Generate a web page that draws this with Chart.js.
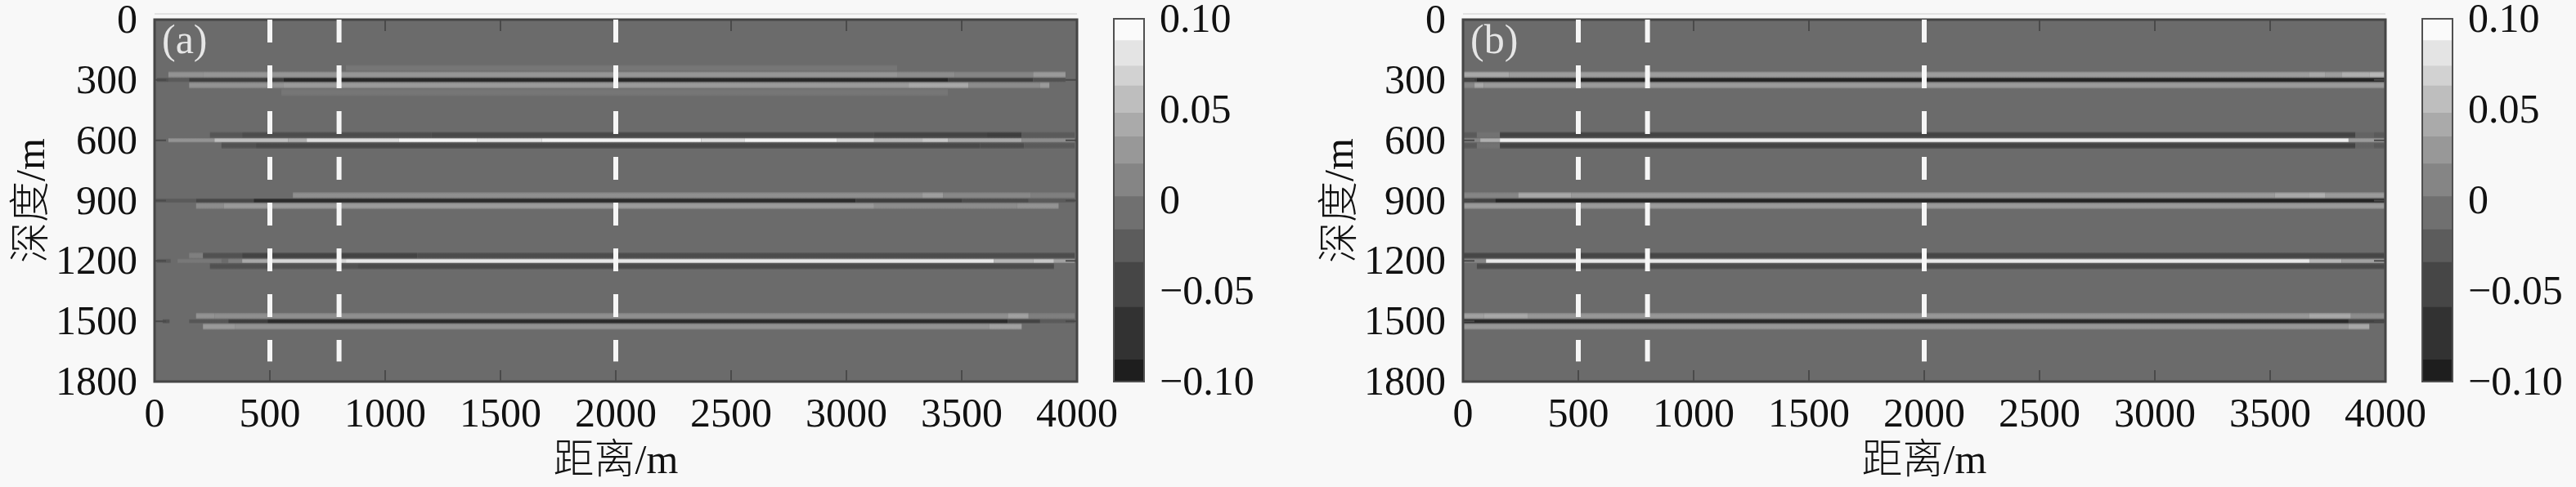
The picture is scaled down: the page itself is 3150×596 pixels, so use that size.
<!DOCTYPE html>
<html><head><meta charset="utf-8">
<script src="https://cdn.jsdelivr.net/npm/chart.js@4.4.1/dist/chart.umd.min.js"></script>
<style>
html,body{margin:0;padding:0;background:#f8f8f8;width:3150px;height:596px;overflow:hidden;position:relative;}
canvas{position:absolute;top:0;}
</style></head><body>
<canvas id="mainA" width="1600" height="596" style="left:0px"></canvas>
<canvas id="cbA" width="260" height="596" style="left:1340px"></canvas>
<canvas id="mainB" width="1600" height="596" style="left:1600px"></canvas>
<canvas id="cbB" width="260" height="596" style="left:2940px"></canvas>
<script>
// ---------------- data ----------------
const depthTicks = [0, 300, 600, 900, 1200, 1500, 1800];
const distTicks = [0, 500, 1000, 1500, 2000, 2500, 3000, 3500, 4000];
const cbTicks = [-0.10, -0.05, 0, 0.05, 0.10];
const reflectorDepths = [300, 600, 900, 1200, 1500];
const wellX = [500, 800, 2000];
const wellDepthRange = [0, 1700];
// colour-bar bands (value edges)
const cbEdges = [-0.10, -0.088, -0.059, -0.034, -0.016, 0.002, 0.020, 0.035, 0.048, 0.063, 0.074, 0.088, 0.10];

// reflector rows: [lobe, x0 (m), x1 (m), amplitude]
const reflA300 = [
  ['u2', 830, 3220, 0.008],
  ['u', 60, 210, 0.03], ['u', 210, 3220, 0.032], ['u', 3220, 3470, 0.026], ['u', 3470, 3810, 0.02], ['u', 3810, 3950, 0.035],
  ['c', 10, 60, -0.03], ['c', 60, 150, -0.02], ['c', 150, 560, -0.05], ['c', 560, 3440, -0.078], ['c', 3440, 3810, -0.05], ['c', 3810, 3950, -0.03],
  ['l', 150, 560, 0.03], ['l', 560, 3270, 0.035], ['l', 3270, 3530, 0.045], ['l', 3530, 3840, 0.025], ['l', 3840, 3880, 0.035],
  ['l2', 550, 3440, 0.008]
];
const reflA600 = [
  ['u', 240, 380, -0.025], ['u', 380, 1200, -0.035], ['u', 1200, 3120, -0.04], ['u', 3120, 3610, -0.045], ['u', 3610, 3760, -0.05], ['u', 3760, 3990, -0.02],
  ['c', 60, 260, 0.03], ['c', 260, 580, 0.06], ['c', 580, 660, 0.05], ['c', 660, 1060, 0.08], ['c', 1060, 1400, 0.095], ['c', 1400, 1680, 0.085],
  ['c', 1680, 2370, 0.095], ['c', 2370, 2560, 0.08], ['c', 2560, 2960, 0.095], ['c', 2960, 3120, 0.075], ['c', 3120, 3330, 0.055],
  ['c', 3330, 3440, 0.065], ['c', 3440, 3760, 0.045], ['c', 3760, 3990, 0.025],
  ['l', 290, 440, -0.03], ['l', 440, 3580, -0.04], ['l', 3580, 3770, -0.035], ['l', 3770, 3990, -0.02]
];
const reflA900 = [
  ['u', 600, 3330, 0.027], ['u', 3330, 3420, 0.038], ['u', 3420, 3800, 0.022], ['u', 3800, 3990, 0.015],
  ['c', 0, 180, -0.02], ['c', 180, 430, -0.04], ['c', 430, 3040, -0.072], ['c', 3040, 3500, -0.05], ['c', 3500, 3790, -0.035], ['c', 3790, 3990, -0.02],
  ['l', 180, 300, 0.025], ['l', 300, 3120, 0.035], ['l', 3120, 3740, 0.025], ['l', 3740, 3920, 0.03]
];
const reflA1200 = [
  ['u', 150, 210, 0.015], ['u', 210, 380, -0.03], ['u', 380, 1140, -0.045], ['u', 1140, 3990, -0.035],
  ['c', 10, 70, -0.02], ['c', 100, 290, 0.01], ['c', 320, 380, 0.015], ['c', 380, 490, 0.045], ['c', 490, 830, 0.075],
  ['c', 830, 3640, 0.088], ['c', 3640, 3810, 0.055], ['c', 3810, 3900, 0.065], ['c', 3900, 3990, 0.04],
  ['l', 240, 880, -0.03], ['l', 880, 3900, -0.036]
];
const reflA1500 = [
  ['u', 180, 260, 0.03], ['u', 260, 3700, 0.027], ['u', 3700, 3790, 0.04], ['u', 3790, 3990, 0.015],
  ['c', 35, 65, -0.03], ['c', 150, 320, -0.025], ['c', 320, 490, -0.05], ['c', 490, 3700, -0.072], ['c', 3700, 3840, -0.045], ['c', 3840, 3990, -0.02],
  ['l', 210, 350, 0.035], ['l', 350, 3620, 0.03], ['l', 3620, 3760, 0.04]
];

const reflB300 = [
  ['u', 0, 200, 0.045], ['u', 200, 3670, 0.037], ['u', 3670, 3740, 0.045], ['u', 3740, 3810, 0.037], ['u', 3810, 3930, 0.05], ['u', 3930, 3995, 0.055],
  ['c', 0, 60, -0.05], ['c', 60, 3995, -0.085],
  ['l', 0, 50, 0.02], ['l', 50, 90, 0.045], ['l', 90, 3995, 0.035]
];
const reflB600 = [
  ['u', 0, 60, -0.02], ['u', 60, 160, 0.005], ['u', 160, 3870, -0.045], ['u', 3870, 3950, -0.01], ['u', 3950, 3995, -0.02],
  ['c', 0, 75, 0.02], ['c', 75, 160, 0.05], ['c', 160, 3840, 0.092], ['c', 3840, 3995, 0.035],
  ['l', 0, 60, -0.02], ['l', 60, 160, 0.005], ['l', 160, 3870, -0.045], ['l', 3870, 3950, -0.01], ['l', 3950, 3995, -0.02]
];
const reflB900 = [
  ['u', 0, 240, 0.02], ['u', 240, 470, 0.045], ['u', 470, 3520, 0.035], ['u', 3520, 3670, 0.045], ['u', 3670, 3740, 0.05], ['u', 3740, 3995, 0.035],
  ['c', 0, 140, -0.045], ['c', 140, 3995, -0.08],
  ['l', 0, 3995, 0.035]
];
const reflB1200 = [
  ['u', 0, 3995, -0.042],
  ['c', 0, 100, 0.02], ['c', 100, 3670, 0.088], ['c', 3670, 3810, 0.055], ['c', 3810, 3995, 0.04],
  ['l', 60, 3995, -0.038]
];
const reflB1500 = [
  ['u', 0, 90, 0.04], ['u', 90, 280, 0.045], ['u', 280, 3670, 0.033], ['u', 3670, 3850, 0.045], ['u', 3850, 3995, 0.025],
  ['c', 0, 3840, -0.075], ['c', 3840, 3995, -0.045],
  ['l', 0, 3840, 0.033], ['l', 3840, 3930, 0.045]
];

// ---------------- style ----------------
const FONT = "'Liberation Serif','Times New Roman',serif";
const TITLE_FONT = "'Liberation Serif','Noto Sans CJK SC',serif";
const TEXT_COLOR = '#111111';
const LOBES = { u2: [-75, -42], u: [-42, -11], c: [-11, 11], l: [11, 42], l2: [42, 80] };
const CMAP = [[-0.1, 26], [-0.075, 40], [-0.05, 62], [-0.025, 86], [0, 107], [0.025, 140], [0.05, 175], [0.075, 215], [0.1, 250]];
const cbGray = [30, 50, 70, 92, 112, 133, 152, 170, 190, 210, 228, 250];

function grayFor(v) {
  if (v <= CMAP[0][0]) return CMAP[0][1];
  for (let i = 1; i < CMAP.length; i++) {
    if (v <= CMAP[i][0]) {
      const [v0, g0] = CMAP[i - 1], [v1, g1] = CMAP[i];
      return Math.round(g0 + (g1 - g0) * (v - v0) / (v1 - v0));
    }
  }
  return CMAP[CMAP.length - 1][1];
}
const rgb = g => `rgb(${g},${g},${g})`;
const noVPad = s => { s.paddingTop = 0; s.paddingBottom = 0; };

const seismicPlugin = {
  id: 'seismic',
  beforeDatasetsDraw(chart, args, opts) {
    const { ctx, chartArea: a, scales: { x, y } } = chart;
    // faint upper axis line above the box
    ctx.save();
    ctx.strokeStyle = '#e2e2e2'; ctx.lineWidth = 2;
    ctx.beginPath(); ctx.moveTo(a.left, a.top - 7); ctx.lineTo(a.right, a.top - 7); ctx.stroke();
    ctx.restore();

    ctx.save();
    ctx.beginPath(); ctx.rect(a.left, a.top, a.width, a.height); ctx.clip();
    const bg = grayFor(0);
    ctx.fillStyle = rgb(bg);
    ctx.fillRect(a.left, a.top, a.width, a.height);
    opts.reflectors.forEach((rows, i) => {
      const d = reflectorDepths[i];
      rows.forEach(([lobe, x0, x1, amp]) => {
        const [o0, o1] = LOBES[lobe];
        const py0 = y.getPixelForValue(d + o0), py1 = y.getPixelForValue(d + o1);
        const px0 = x.getPixelForValue(x0), px1 = x.getPixelForValue(x1);
        const g = grayFor(amp);
        const e = Math.round(bg + (g - bg) * 0.45);
        const grad = ctx.createLinearGradient(0, py0, 0, py1);
        grad.addColorStop(0, rgb(e)); grad.addColorStop(0.3, rgb(g));
        grad.addColorStop(0.7, rgb(g)); grad.addColorStop(1, rgb(e));
        ctx.fillStyle = grad;
        ctx.fillRect(px0, py0, px1 - px0, py1 - py0);
      });
    });
    // inward tick marks
    ctx.strokeStyle = '#4a4a4a'; ctx.lineWidth = 2;
    ctx.beginPath();
    x.ticks.forEach(t => {
      const p = x.getPixelForValue(t.value);
      ctx.moveTo(p, a.top); ctx.lineTo(p, a.top + 14);
      ctx.moveTo(p, a.bottom); ctx.lineTo(p, a.bottom - 14);
    });
    y.ticks.forEach(t => {
      const p = y.getPixelForValue(t.value);
      ctx.moveTo(a.left, p); ctx.lineTo(a.left + 14, p);
      ctx.moveTo(a.right, p); ctx.lineTo(a.right - 14, p);
    });
    ctx.stroke();
    ctx.restore();
    // frame
    ctx.save();
    ctx.strokeStyle = '#454545'; ctx.lineWidth = 3;
    ctx.strokeRect(a.left, a.top, a.width, a.height);
    // panel label
    ctx.font = `50px ${FONT}`;
    ctx.fillStyle = '#e6e6e6';
    ctx.textBaseline = 'alphabetic'; ctx.textAlign = 'left';
    ctx.fillText(opts.label, a.left + 9, a.top + 41);
    ctx.restore();
  }
};

const cbFramePlugin = {
  id: 'cbFrame',
  afterDatasetsDraw(chart) {
    const { ctx, chartArea: a } = chart;
    ctx.save();
    ctx.strokeStyle = '#505050'; ctx.lineWidth = 2;
    ctx.strokeRect(a.left, a.top, a.width, a.height);
    ctx.restore();
  }
};

function makeMain(id, reflectors, label) {
  return new Chart(document.getElementById(id), {
    type: 'scatter',
    data: {
      datasets: wellX.map(wx => ({
        data: [{ x: wx, y: wellDepthRange[0] }, { x: wx, y: wellDepthRange[1] }],
        showLine: true, borderColor: '#f6f6f6', borderWidth: 6, borderDash: [28, 28],
        borderCapStyle: 'butt', pointRadius: 0, fill: false
      }))
    },
    options: {
      responsive: false, animation: false, devicePixelRatio: 1,
      layout: { padding: { left: 0, right: 283, top: 24, bottom: 0 } },
      plugins: {
        legend: { display: false }, tooltip: { enabled: false },
        seismic: { reflectors, label }
      },
      scales: {
        x: {
          type: 'linear', min: 0, max: 4000, position: 'bottom',
          grid: { display: false, drawTicks: false }, border: { display: false },
          afterBuildTicks: s => { s.ticks = distTicks.map(v => ({ value: v })); },
          afterFit: s => { s.height = 129; s.paddingLeft = 0; s.paddingRight = 0; },
          ticks: { padding: 12, autoSkip: false, maxRotation: 0, color: TEXT_COLOR,
                   font: { family: FONT, size: 50 }, callback: v => String(v) },
          title: { display: true, text: '距离/m', color: TEXT_COLOR,
                   font: { family: TITLE_FONT, size: 50, weight: 300 }, padding: { top: 0, bottom: 0 } }
        },
        y: {
          type: 'linear', min: 0, max: 1800, reverse: true, position: 'left',
          grid: { display: false, drawTicks: false }, border: { display: false },
          afterBuildTicks: s => { s.ticks = depthTicks.map(v => ({ value: v })); },
          afterFit: s => { s.width = 189; noVPad(s); },
          ticks: { padding: 21, labelOffset: 3, autoSkip: false, color: TEXT_COLOR,
                   font: { family: FONT, size: 50 }, callback: v => String(v) },
          title: { display: true, text: '深度/m', color: TEXT_COLOR,
                   font: { family: TITLE_FONT, size: 50, weight: 300 }, padding: { top: 11, bottom: 0 } }
        }
      }
    },
    plugins: [seismicPlugin]
  });
}

function makeColorbar(id) {
  return new Chart(document.getElementById(id), {
    type: 'bar',
    data: {
      labels: [''],
      datasets: cbGray.map((g, i) => ({
        data: [[cbEdges[i], cbEdges[i + 1]]], backgroundColor: rgb(g), borderWidth: 0,
        grouped: false, barPercentage: 1, categoryPercentage: 1
      }))
    },
    options: {
      responsive: false, animation: false, devicePixelRatio: 1,
      layout: { padding: { left: 22, top: 23, bottom: 129, right: 0 } },
      plugins: { legend: { display: false }, tooltip: { enabled: false } },
      scales: {
        x: { display: false },
        y: {
          position: 'right', min: -0.1, max: 0.1,
          grid: { display: false, drawTicks: false }, border: { display: false },
          afterBuildTicks: s => { s.ticks = cbTicks.map(v => ({ value: v })); },
          afterFit: s => { s.width = 201; noVPad(s); },
          ticks: { padding: 19, labelOffset: 3, color: TEXT_COLOR, font: { family: FONT, size: 50 },
                   callback: v => v === 0 ? '0' : (v < 0 ? '\u2212' : '') + Math.abs(v).toFixed(2) }
        }
      }
    },
    plugins: [cbFramePlugin]
  });
}

makeMain('mainA', [reflA300, reflA600, reflA900, reflA1200, reflA1500], '(a)');
makeColorbar('cbA');
makeMain('mainB', [reflB300, reflB600, reflB900, reflB1200, reflB1500], '(b)');
makeColorbar('cbB');
</script></body></html>
